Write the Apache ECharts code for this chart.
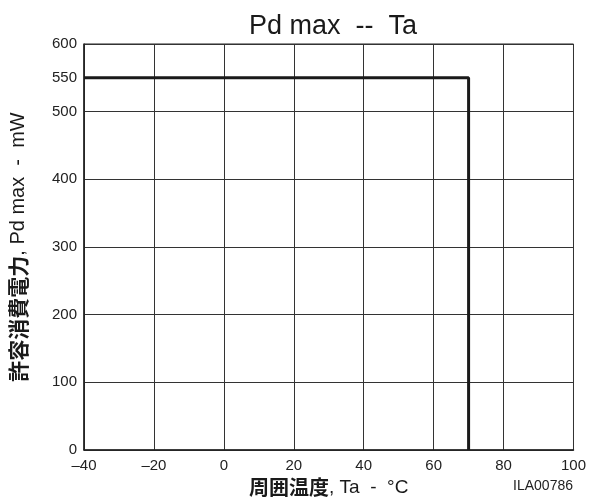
<!DOCTYPE html>
<html><head><meta charset="utf-8">
<script src="https://cdn.jsdelivr.net/npm/echarts@6/dist/echarts.min.js"></script>
<style>html,body{margin:0;padding:0;background:#fff}#c{width:589px;height:504px}</style>
</head><body><div id="c"></div>
<script>
const titleText = 'Pd max  --  Ta';
const xMin = -40, xMax = 100, xStep = 20;
const yMin = 0, yMax = 600, yStep = 100;
const yExtraLabel = 550;
const curveTa = [-40, 70, 70];
const curvePd = [550, 550, 0];
const FONT = '"Liberation Sans", Arial, "Noto Sans CJK JP", sans-serif';
const CJK = '"Noto Sans CJK JP", sans-serif';

const chart = echarts.init(document.getElementById('c'), null, {renderer: 'canvas'});
chart.setOption({
  backgroundColor: '#fff',
  animation: false,
  title: {text: titleText, left: 328, textAlign: 'center', top: 8,
    textStyle: {fontFamily: FONT, fontSize: 27, fontWeight: 'normal', color: '#1a1a1a'}},
  grid: {left: 82, right: 14, top: 44, bottom: 54, show: true, borderColor: '#222', borderWidth: 1},
  xAxis: {
    type: 'value', min: xMin, max: xMax, interval: xStep,
    axisLine: {show: true, onZero: false, lineStyle: {color: '#222', width: 1.5}},
    axisTick: {show: false},
    splitLine: {show: true, lineStyle: {color: '#333', width: 1}},
    axisLabel: {fontFamily: FONT, fontSize: 15, color: '#222', margin: 8,
      formatter: v => v < 0 ? '\u2013' + Math.abs(v) : String(v)},
    name: '{b|周囲温度}, Ta  -  °C', nameLocation: 'middle', nameGap: 27,
    nameTextStyle: {fontFamily: FONT, fontSize: 19, color: '#1a1a1a',
      rich: {b: {fontFamily: CJK, fontWeight: 'bold', fontSize: 20, color: '#1a1a1a'}}}
  },
  yAxis: [{
    type: 'value', min: yMin, max: yMax, interval: yStep,
    axisLine: {show: true, onZero: false, lineStyle: {color: '#222', width: 1.5}},
    axisTick: {show: false},
    splitLine: {show: true, lineStyle: {color: '#333', width: 1}},
    axisLabel: {fontFamily: FONT, fontSize: 15, color: '#222', margin: 7},
    name: '{b|許容消費電力}, Pd max  -  mW', nameLocation: 'middle', nameGap: 55, nameRotate: 90,
    nameTextStyle: {fontFamily: FONT, fontSize: 20, color: '#1a1a1a',
      rich: {b: {fontFamily: CJK, fontWeight: 'bold', fontSize: 21, color: '#1a1a1a'}}}
  }, {
    type: 'value', min: yMin, max: yMax, interval: 50, position: 'left',
    axisLine: {show: false, onZero: false}, axisTick: {show: false}, splitLine: {show: false},
    axisLabel: {fontFamily: FONT, fontSize: 15, color: '#222', margin: 7,
      formatter: v => v === yExtraLabel ? String(v) : ''}
  }],
  graphic: [{type: 'text', right: 16, top: 479,
    style: {text: 'ILA00786', fontFamily: FONT, fontSize: 14, fill: '#222'}}],
  series: [{
    type: 'line', data: curveTa.map((t, i) => [t, curvePd[i]]),
    symbol: 'none', lineStyle: {color: '#1a1a1a', width: 3}
  }]
});
</script></body></html>
